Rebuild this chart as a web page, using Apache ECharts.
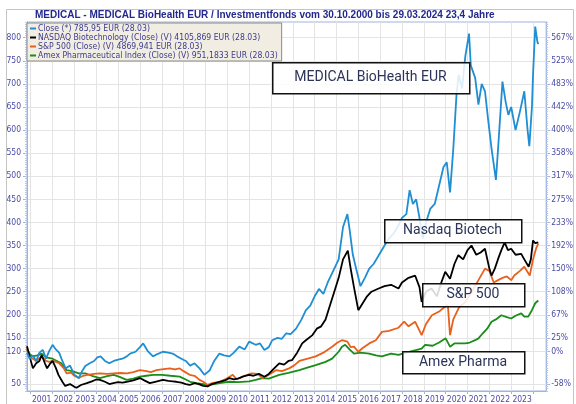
<!DOCTYPE html>
<html><head><meta charset="utf-8">
<script src="https://cdn.jsdelivr.net/npm/echarts@6/dist/echarts.min.js"></script>
<style>html,body{margin:0;padding:0;background:#fff}#c{width:576px;height:404px}</style>
</head><body><div id="c"></div>
<script>
const titleText = 'MEDICAL - MEDICAL BioHealth EUR / Investmentfonds vom 30.10.2000 bis 29.03.2024 23,4 Jahre';
const seriesNames = ['Close (*) 785,95 EUR (28.03)','NASDAQ Biotechnology (Close) (V) 4105,869 EUR (28.03)','S&P 500 (Close) (V) 4869,941 EUR (28.03)','Amex Pharmaceutical Index (Close) (V) 951,1833 EUR (28.03)'];
const yTickValues = [50,120,150,200,250,300,350,400,450,500,550,600,650,700,750,800];
const rightTickLabels = ['-58%','0%','25%','67%','108%','150%','192%','233%','275%','317%','358%','400%','442%','483%','525%','567%'];
const yearLabels = [2001,2002,2003,2004,2005,2006,2007,2008,2009,2010,2011,2012,2013,2014,2015,2016,2017,2018,2019,2020,2021,2022,2023];
const yearBounds = [2001,2002,2003,2004,2005,2006,2007,2008,2009,2010,2011,2012,2013,2014,2015,2016,2017,2018,2019,2020,2021,2022,2023,2024];

const medical = [[2000.83,118],[2000.95,105],[2001.1,112],[2001.25,100],[2001.4,118],[2001.55,124],[2001.7,105],[2001.85,122],[2002.0,135],[2002.15,125],[2002.3,118],[2002.45,100],[2002.6,84],[2002.8,90],[2003.0,70],[2003.2,63],[2003.35,78],[2003.5,89],[2003.7,95],[2003.9,100],[2004.05,108],[2004.2,110],[2004.4,100],[2004.6,95],[2004.8,100],[2005.0,103],[2005.2,105],[2005.4,110],[2005.55,116],[2005.8,120],[2006.0,130],[2006.15,138],[2006.35,122],[2006.6,110],[2006.8,115],[2007.05,120],[2007.3,118],[2007.5,116],[2007.7,110],[2007.9,105],[2008.1,100],[2008.3,90],[2008.5,95],[2008.73,84],[2008.95,70],[2009.2,80],[2009.4,100],[2009.64,116],[2009.85,112],[2010.1,110],[2010.3,118],[2010.55,131],[2010.8,125],[2011.0,142],[2011.3,135],[2011.5,138],[2011.7,124],[2011.9,130],[2012.06,145],[2012.3,150],[2012.5,148],[2012.7,160],[2012.9,158],[2013.15,170],[2013.4,190],[2013.6,210],[2013.8,220],[2014.0,240],[2014.2,256],[2014.4,245],[2014.6,270],[2014.9,300],[2015.1,320],[2015.3,390],[2015.5,418],[2015.6,385],[2015.75,330],[2015.9,300],[2016.1,262],[2016.3,280],[2016.5,300],[2016.7,310],[2016.95,330],[2017.2,350],[2017.4,365],[2017.6,375],[2017.8,390],[2018.0,410],[2018.2,418],[2018.35,470],[2018.5,440],[2018.65,450],[2018.8,410],[2018.95,365],[2019.1,400],[2019.3,430],[2019.5,440],[2019.7,480],[2019.9,520],[2020.05,530],[2020.2,465],[2020.35,560],[2020.5,680],[2020.6,720],[2020.75,690],[2020.9,760],[2021.07,809],[2021.15,740],[2021.35,713],[2021.5,655],[2021.65,700],[2021.8,684],[2021.95,620],[2022.1,560],[2022.3,492],[2022.4,560],[2022.6,705],[2022.75,660],[2022.87,633],[2023.0,650],[2023.2,600],[2023.4,640],[2023.6,684],[2023.75,600],[2023.83,565],[2023.95,650],[2024.0,720],[2024.1,824],[2024.2,791],[2024.24,786]];
const nasdaq = [[2000.83,132],[2000.95,110],[2001.1,84],[2001.25,95],[2001.4,100],[2001.5,113],[2001.65,95],[2001.75,84],[2001.9,95],[2002.0,100],[2002.15,85],[2002.27,70],[2002.45,55],[2002.58,46],[2002.8,50],[2003.0,44],[2003.1,42],[2003.3,48],[2003.57,52],[2003.8,56],[2004.0,60],[2004.17,59],[2004.4,55],[2004.6,50],[2004.78,52],[2005.0,54],[2005.2,53],[2005.39,55],[2005.7,58],[2006.0,63],[2006.2,58],[2006.45,52],[2006.7,55],[2007.05,59],[2007.3,57],[2007.5,56],[2007.67,55],[2007.9,53],[2008.1,50],[2008.28,48],[2008.5,52],[2008.7,50],[2008.9,46],[2009.1,45],[2009.3,50],[2009.64,55],[2009.9,58],[2010.1,63],[2010.3,60],[2010.5,62],[2010.7,66],[2011.0,70],[2011.2,68],[2011.45,72],[2011.7,66],[2011.9,72],[2012.1,82],[2012.38,95],[2012.6,92],[2012.8,100],[2012.97,102],[2013.2,118],[2013.43,138],[2013.6,145],[2013.9,156],[2014.1,170],[2014.3,175],[2014.5,190],[2014.7,220],[2014.9,250],[2015.1,280],[2015.3,320],[2015.52,339],[2015.65,300],[2015.8,260],[2016.0,210],[2016.2,225],[2016.4,240],[2016.6,250],[2016.93,257],[2017.2,262],[2017.5,265],[2017.84,257],[2018.0,270],[2018.3,280],[2018.6,285],[2018.8,260],[2018.9,228],[2019.1,250],[2019.35,257],[2019.6,240],[2019.8,270],[2019.98,293],[2020.2,278],[2020.4,310],[2020.58,329],[2020.8,320],[2021.0,340],[2021.18,350],[2021.4,330],[2021.6,335],[2021.8,343],[2022.0,300],[2022.1,285],[2022.25,300],[2022.4,321],[2022.55,340],[2022.7,357],[2022.85,340],[2023.0,343],[2023.2,330],[2023.46,332],[2023.6,320],[2023.8,304],[2023.9,320],[2024.0,361],[2024.1,355],[2024.24,357]];
const sp500 = [[2000.83,124],[2000.95,110],[2001.1,105],[2001.25,100],[2001.5,110],[2001.7,100],[2001.85,98],[2002.0,100],[2002.15,98],[2002.3,95],[2002.5,85],[2002.65,73],[2002.85,75],[2003.0,68],[2003.2,63],[2003.4,68],[2003.6,70],[2003.9,72],[2004.17,73],[2004.5,72],[2004.8,73],[2005.1,74],[2005.4,73],[2005.7,76],[2006.0,80],[2006.3,78],[2006.5,76],[2006.76,80],[2007.0,82],[2007.37,84],[2007.6,82],[2007.82,84],[2008.0,78],[2008.28,70],[2008.5,68],[2008.73,59],[2008.9,55],[2009.1,48],[2009.3,52],[2009.64,55],[2009.9,60],[2010.25,70],[2010.4,62],[2010.6,63],[2010.8,68],[2011.1,73],[2011.4,72],[2011.6,63],[2011.9,70],[2012.23,80],[2012.5,78],[2012.83,84],[2013.05,90],[2013.3,100],[2013.6,104],[2014.05,110],[2014.4,118],[2014.8,131],[2015.05,140],[2015.25,145],[2015.5,142],[2015.65,130],[2015.8,131],[2016.0,120],[2016.2,128],[2016.5,138],[2016.8,145],[2017.08,163],[2017.4,165],[2017.84,172],[2018.1,185],[2018.3,175],[2018.6,185],[2018.9,156],[2019.1,180],[2019.37,199],[2019.7,207],[2019.9,215],[2020.1,221],[2020.2,156],[2020.35,190],[2020.6,215],[2020.9,228],[2021.2,250],[2021.5,275],[2021.8,300],[2022.0,295],[2022.2,270],[2022.4,275],[2022.6,280],[2022.8,283],[2023.0,275],[2023.14,285],[2023.4,295],[2023.6,304],[2023.85,285],[2024.0,320],[2024.15,345],[2024.24,354]];
const amex = [[2000.83,127],[2000.95,115],[2001.1,110],[2001.3,112],[2001.5,116],[2001.7,108],[2002.0,105],[2002.2,100],[2002.4,95],[2002.65,80],[2002.9,78],[2003.2,73],[2003.5,73],[2003.8,68],[2004.17,63],[2004.5,67],[2004.8,70],[2005.1,65],[2005.39,59],[2005.7,62],[2006.0,66],[2006.3,68],[2006.6,70],[2007.0,70],[2007.4,68],[2007.82,66],[2008.1,60],[2008.3,55],[2008.6,52],[2008.9,50],[2009.1,48],[2009.4,50],[2009.64,52],[2010.1,55],[2010.5,54],[2011.0,56],[2011.3,59],[2011.6,63],[2011.9,62],[2012.38,70],[2012.8,74],[2013.3,80],[2013.7,86],[2014.05,91],[2014.5,98],[2014.8,105],[2015.1,120],[2015.25,131],[2015.4,135],[2015.6,125],[2015.8,116],[2016.1,118],[2016.5,116],[2016.8,112],[2017.08,110],[2017.5,116],[2017.84,113],[2018.2,118],[2018.5,122],[2018.9,127],[2019.06,135],[2019.4,133],[2019.7,140],[2020.0,149],[2020.2,131],[2020.4,138],[2020.7,138],[2020.9,138],[2021.1,140],[2021.35,145],[2021.5,149],[2021.7,160],[2021.9,170],[2022.1,185],[2022.3,190],[2022.55,199],[2022.8,195],[2023.0,192],[2023.2,198],[2023.46,203],[2023.6,196],[2023.78,196],[2023.95,210],[2024.1,225],[2024.24,231]];

const annotations = [
  {text:'MEDICAL BioHealth EUR', x:272, y:62, w:197, h:31},
  {text:'Nasdaq Biotech', x:384, y:219, w:137, h:23},
  {text:'S&P 500', x:422, y:283, w:102, h:23},
  {text:'Amex Pharma', x:402, y:351, w:122, h:22}
];

const chart = echarts.init(document.getElementById('c'), null, {renderer:'canvas'});
const axisBlue = '#9db4de';
const labelColor = '#4a4aa6';
const gridColor = '#e4e4e4';
const colors = ['#1f8ed2','#000000','#e8601c','#1a8c1a'];
const dataSets = [medical, nasdaq, sp500, amex];
const Y_MIN = 35, Y_MAX = 834, X_MIN = 2000.83, X_MAX = 2024.6;
const axisFont = 'DejaVu Sans Condensed';

const option = {
  animation:false,
  backgroundColor:'#ffffff',
  title:{text:titleText, left:35, top:10, padding:0, textStyle:{fontFamily:'Liberation Sans', fontWeight:'bold', fontSize:10, color:'#22288c'}},
  legend:{
    orient:'vertical', left:27, top:23, padding:[1,4,1,3], itemGap:0,
    itemWidth:6, itemHeight:2, icon:'rect',
    backgroundColor:'#f2ede2', borderColor:'#8a8a8a', borderWidth:1,
    textStyle:{fontFamily:axisFont, fontSize:8.6, color:'#3b3b8e', lineHeight:8.7, padding:[0,0,0,-3]},
    data: seriesNames
  },
  grid:{left:27, right:28, top:22, bottom:11, show:true, borderColor:axisBlue, borderWidth:1},
  xAxis:{
    type:'value', min:X_MIN, max:X_MAX,
    axisLine:{show:true, onZero:false, lineStyle:{color:axisBlue}},
    axisTick:{show:true, length:3, lineStyle:{color:axisBlue}, customValues: yearBounds},
    axisLabel:{customValues: yearLabels.map(v=>v+0.5), formatter:(v)=>String(Math.floor(v)), color:labelColor, fontFamily:axisFont, fontSize:8.5, margin:4},
    splitLine:{show:true, lineStyle:{color:gridColor}}
  },
  yAxis:[
    {type:'value', min:Y_MIN, max:Y_MAX, position:'left',
     axisLine:{show:true, lineStyle:{color:axisBlue}},
     axisTick:{show:true, length:4, lineStyle:{color:axisBlue}, customValues:yTickValues},
     axisLabel:{customValues:yTickValues, color:labelColor, fontFamily:axisFont, fontSize:8.5, margin:6},
     splitLine:{show:true, lineStyle:{color:gridColor}}},
    {type:'value', min:Y_MIN, max:Y_MAX, position:'right',
     axisLine:{show:true, lineStyle:{color:axisBlue}},
     axisTick:{show:true, length:4, lineStyle:{color:axisBlue}, customValues:yTickValues},
     axisLabel:{customValues:yTickValues, formatter:(v)=>rightTickLabels[yTickValues.indexOf(v)], color:labelColor, fontFamily:axisFont, fontSize:8.5, margin:5},
     splitLine:{show:false}},
    {type:'value', min:Y_MIN, max:Y_MAX, interval:5, position:'left',
     axisLine:{show:false}, axisLabel:{show:false}, splitLine:{show:false},
     axisTick:{show:true, length:2, lineStyle:{color:'#b8c8e8'}}},
    {type:'value', min:Y_MIN, max:Y_MAX, interval:5, position:'right',
     axisLine:{show:false}, axisLabel:{show:false}, splitLine:{show:false},
     axisTick:{show:true, length:2, lineStyle:{color:'#b8c8e8'}}}
  ],
  series: dataSets.map((d,i)=>({
    name: seriesNames[i], type:'line', data:d, showSymbol:false, symbol:'none',
    lineStyle:{color:colors[i], width:1.8}, itemStyle:{color:colors[i]}, z: 10-i
  })),
  graphic: annotations.flatMap(a=>[
    {type:'rect', left:a.x, top:a.y, z:100, shape:{width:a.w, height:a.h}, style:{fill:'rgba(255,255,255,0.85)', stroke:'#111', lineWidth:1.5}},
    {type:'text', z:101, x:a.x+a.w/2, y:a.y+a.h/2, style:{text:a.text, fill:'#2b3458', font:'14px Roboto', align:'center', verticalAlign:'middle'}}
  ]).concat([
    {type:'rect', left:4, top:7, z:0, shape:{width:567, height:400}, style:{fill:'none', stroke:'#c4c4c4', lineWidth:1}}
  ])
};
chart.setOption(option);
</script></body></html>
